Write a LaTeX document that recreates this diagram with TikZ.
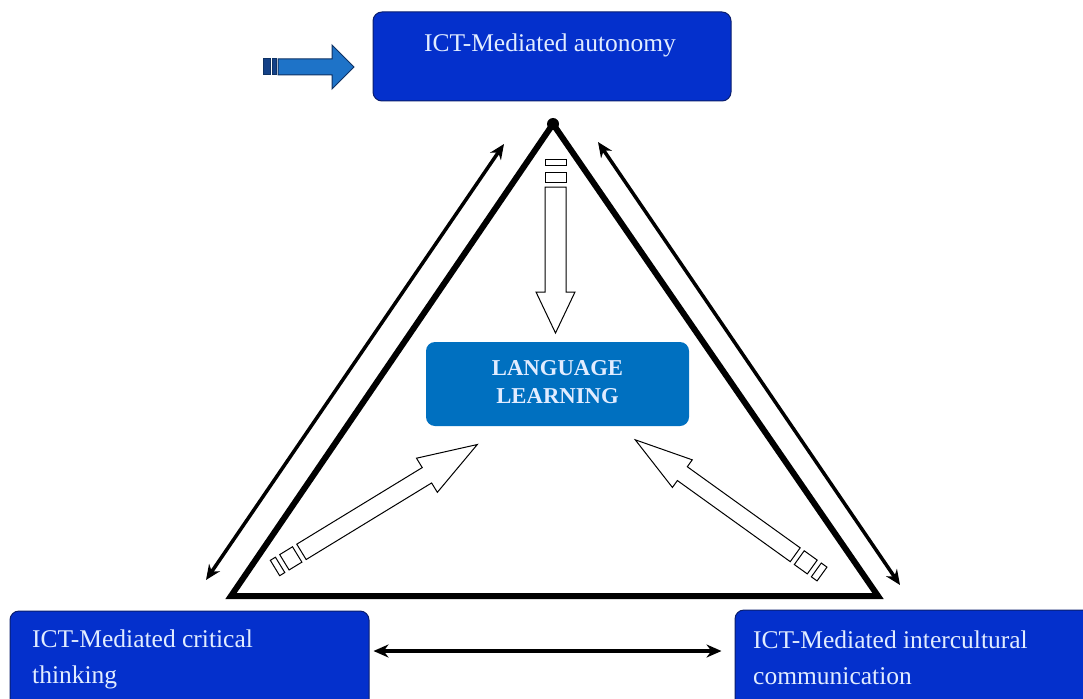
\documentclass[tikz,border=0pt]{standalone}
\usepackage{fontspec}
\setmainfont{Liberation Serif}
\usetikzlibrary{arrows.meta}
\definecolor{deepblue}{RGB}{4,48,204}
\definecolor{navyline}{RGB}{10,30,110}
\definecolor{midblue}{RGB}{0,112,192}
\definecolor{arrowblue}{RGB}{30,115,200}
\definecolor{stripeblue}{RGB}{20,65,135}
\definecolor{arrowline}{RGB}{15,50,100}
\definecolor{paletext}{RGB}{225,236,255}
\begin{document}
\begin{tikzpicture}[x=1pt,y=-1pt,
  bluebox/.style={draw=navyline, line width=1pt, fill=deepblue, rounded corners=9pt, inner sep=0pt},
  learnbox/.style={fill=midblue, rounded corners=9pt, inner sep=0pt},
  boxtext/.style={text=paletext, font=\fontsize{25.5}{35}\selectfont, inner sep=0pt},
  learntext/.style={text=paletext, font=\bfseries\fontsize{22.7}{28}\selectfont, inner sep=0pt},
  tri/.style={line width=6pt, line join=miter},
  twoway/.style={line width=3.5pt, {Stealth[length=15pt,width=13pt]}-{Stealth[length=15pt,width=13pt]}},
  hollow/.style={draw=black, line width=1pt, fill=white, line join=miter},
  bluearrow/.style={draw=arrowline, line width=1pt, fill=arrowblue, line join=miter}
]
\clip (0,0) rectangle (1083,698);
\fill[white] (0,0) rectangle (1083,698);

% boxes
\node[bluebox, minimum width=358pt, minimum height=89pt] (auto) at (552,56.5) {};
\node[boxtext, anchor=base] (autotext) at (550,52) {ICT-Mediated autonomy};

\node[bluebox, minimum width=359pt, minimum height=109pt] (crit) at (189.5,665.5) {};
\node[boxtext, anchor=base west] (crit1) at (32,647) {ICT-Mediated critical};
\node[boxtext, anchor=base west] (crit2) at (32,683) {thinking};

\node[bluebox, minimum width=365pt, minimum height=110pt] (inter) at (917.5,665) {};
\node[boxtext, anchor=base west] (inter1) at (753,648) {ICT-Mediated intercultural};
\node[boxtext, anchor=base west] (inter2) at (753,684) {communication};

\node[learnbox, minimum width=263pt, minimum height=84pt] (learn) at (557.5,384) {};
\node[learntext, anchor=base] (learn1) at (557.5,375) {LANGUAGE};
\node[learntext, anchor=base] (learn2) at (557.5,403) {LEARNING};

% triangle
\coordinate (apex) at (553,124);
\coordinate (bl) at (231,596);
\coordinate (br) at (878,596);
\draw[tri] (apex) -- (bl) -- (br) -- cycle;
\fill (apex) circle[radius=6pt];

% two-way arrows along the sides
\coordinate (la1) at (504,144);
\coordinate (la2) at (206,580);
\coordinate (ra1) at (598,142);
\coordinate (ra2) at (900,585);
\draw[twoway] (la1) -- (la2);
\draw[twoway] (ra1) -- (ra2);
\coordinate (bm) at (0,651);
\draw[twoway, line width=4.5pt, shorten <=4pt, shorten >=13pt] (crit.east |- bm) -- (inter.west |- bm);

% blue striped arrow
\filldraw[bluearrow, fill=stripeblue] (263,59) rectangle (270,75);
\filldraw[bluearrow, fill=stripeblue] (272,59) rectangle (276,75);
\filldraw[bluearrow] (278,59) -- (332,59) -- (332,45) -- (354,67) -- (332,89) -- (332,75) -- (278,75) -- cycle;

% hollow striped arrow down
\draw[hollow] (545,159) rectangle (566,165);
\draw[hollow] (545,172) rectangle (566,182);
\draw[hollow] (545,187) -- (545,292) -- (536,292) -- (555.5,333) -- (575,292) -- (566,292) -- (566,187) -- cycle;

% hollow striped arrow from lower left
\begin{scope}[shift={(275,568)}, rotate=31.4]
\draw[hollow] (0,-9) rectangle (6,9);
\draw[hollow] (11,-9) rectangle (26,9);
\draw[hollow] (31,-9) -- (178,-9) -- (178,-20) -- (237,0) -- (178,20) -- (178,9) -- (31,9) -- cycle;
\end{scope}

% hollow striped arrow from lower right
\begin{scope}[shift={(822,574)}, rotate=144.3]
\draw[hollow] (0,-8.5) rectangle (7,8.5);
\draw[hollow] (12,-8.5) rectangle (28,8.5);
\draw[hollow] (33,-8.5) -- (172,-8.5) -- (172,-17) -- (230,0) -- (172,17) -- (172,8.5) -- (33,8.5) -- cycle;
\end{scope}
\end{tikzpicture}
\end{document}
